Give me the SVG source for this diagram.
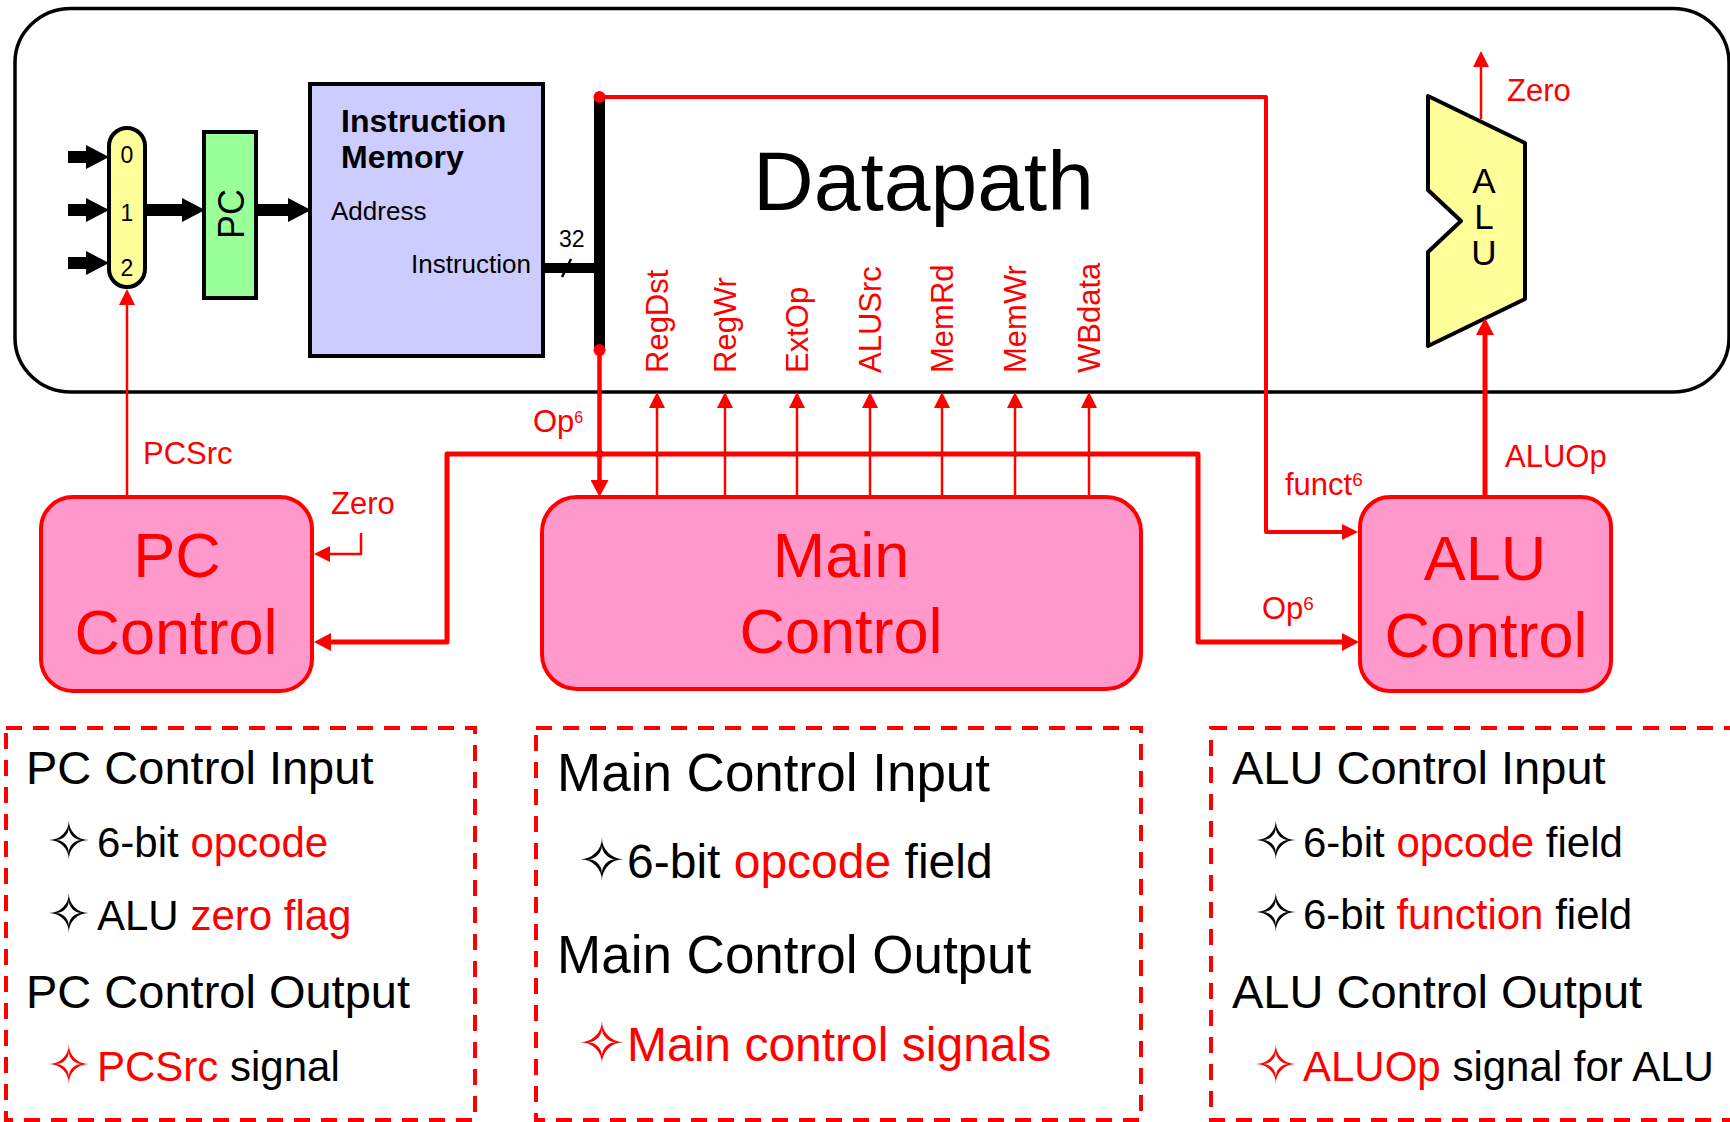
<svg xmlns="http://www.w3.org/2000/svg" width="1730" height="1122" viewBox="0 0 1730 1122">
  <style>
    text { font-family: "Liberation Sans", Arial, sans-serif; }
    .red { fill: #ff0000; }
    .blk { fill: #000000; }
    .star { font-family: "DejaVu Sans", sans-serif; }
    .ctl { fill: #ff99cc; stroke: #ff0000; stroke-width: 4; }
    .wire { fill: none; stroke: #ff0000; stroke-linejoin: round; }
    .thin { stroke-width: 2.5; }
    .thick { stroke-width: 4.5; }
    .note { fill: none; stroke: #ff0000; stroke-width: 4; stroke-dasharray: 16 11; }
    .sig { font-size: 31px; fill: #ff0000; }
    .lbl { font-size: 31px; fill: #ff0000; }
    .big { font-size: 63px; fill: #ff0000; text-anchor: middle; }
  </style>
  <defs>
    <marker id="hs" markerUnits="userSpaceOnUse" markerWidth="16" markerHeight="16" viewBox="0 0 16 16" refX="0" refY="8" orient="auto">
      <path d="M0,0 L16,8 L0,16 Z" fill="#ff0000"/>
    </marker>
    <marker id="hb" markerUnits="userSpaceOnUse" markerWidth="17" markerHeight="18" viewBox="0 0 17 18" refX="0" refY="9" orient="auto">
      <path d="M0,0 L17,9 L0,18 Z" fill="#ff0000"/>
    </marker>
    <marker id="hk" markerUnits="userSpaceOnUse" markerWidth="23" markerHeight="24" viewBox="0 0 23 24" refX="0" refY="12" orient="auto">
      <path d="M0,0 L23,12 L0,24 Z" fill="#000000"/>
    </marker>
  </defs>

  <!-- datapath outline -->
  <g id="datapath">
    <rect x="15" y="8.5" width="1714" height="383.5" rx="56" ry="54" fill="#ffffff" stroke="#000000" stroke-width="3.5"/>
    <text x="753" y="210" font-size="84" class="blk">Datapath</text>
  </g>

  <!-- PC source multiplexer -->
  <g id="mux">
    <rect x="109" y="128" width="36" height="159" rx="18" ry="18" fill="#ffff99" stroke="#000000" stroke-width="4"/>
    <text x="127" y="163" font-size="23" text-anchor="middle">0</text>
    <text x="127" y="221" font-size="23" text-anchor="middle">1</text>
    <text x="127" y="276" font-size="23" text-anchor="middle">2</text>
  </g>

  <!-- program counter -->
  <g id="pc">
    <rect x="204" y="132" width="52" height="166" fill="#99ff99" stroke="#000000" stroke-width="4"/>
    <text transform="translate(243.5,214) rotate(-90)" font-size="36" text-anchor="middle">PC</text>
  </g>

  <!-- instruction memory -->
  <g id="imem">
    <rect x="310" y="84" width="233" height="272" fill="#ccccff" stroke="#000000" stroke-width="4"/>
    <text x="341" y="132" font-size="32" font-weight="bold">Instruction</text>
    <text x="341" y="168" font-size="32" font-weight="bold">Memory</text>
    <text x="331" y="220" font-size="26">Address</text>
    <text x="531" y="273" font-size="26" text-anchor="end">Instruction</text>
  </g>

  <!-- ALU -->
  <g id="alu">
    <polygon points="1428,96 1525,143 1525,299 1428,346 1428,252 1461,221 1428,190" fill="#ffff99" stroke="#000000" stroke-width="4" stroke-linejoin="round"/>
    <text font-size="35" text-anchor="middle"><tspan x="1484" y="193">A</tspan><tspan x="1484" y="229">L</tspan><tspan x="1484" y="265">U</tspan></text>
  </g>

  <!-- control units -->
  <g id="pc-control">
    <rect class="ctl" x="41" y="497" width="271" height="194" rx="32" ry="32"/>
    <text class="big" x="177" y="577">PC</text>
    <text class="big" x="176" y="654">Control</text>
  </g>
  <g id="main-control">
    <rect class="ctl" x="542" y="497" width="599" height="192" rx="35" ry="35"/>
    <text class="big" x="841" y="577">Main</text>
    <text class="big" x="841" y="653">Control</text>
  </g>
  <g id="alu-control">
    <rect class="ctl" x="1360" y="497" width="251" height="194" rx="30" ry="30"/>
    <text class="big" x="1485" y="580" font-size="62">ALU</text>
    <text class="big" x="1486" y="657" font-size="62">Control</text>
  </g>

  <!-- connectors -->
  <g id="connectors">
    <!-- black datapath arrows -->
    <g stroke="#000000" stroke-width="12" fill="none">
      <line x1="68" y1="157" x2="86" y2="157" marker-end="url(#hk)"/>
      <line x1="68" y1="210" x2="86" y2="210" marker-end="url(#hk)"/>
      <line x1="68" y1="263" x2="86" y2="263" marker-end="url(#hk)"/>
      <line x1="145" y1="210" x2="182" y2="210" marker-end="url(#hk)"/>
      <line x1="256" y1="210" x2="288" y2="210" marker-end="url(#hk)"/>
    </g>
    <!-- 32-bit instruction bus -->
    <line x1="543" y1="268" x2="600" y2="268" stroke="#000000" stroke-width="10"/>
    <line x1="562" y1="277" x2="571" y2="259" stroke="#000000" stroke-width="2.5"/>
    <text x="559" y="247" font-size="23">32</text>
    <line x1="599.5" y1="97" x2="599.5" y2="350" stroke="#000000" stroke-width="11"/>

    <!-- funct field to ALU control -->
    <path class="wire" d="M599.5,97 H1266 V532 H1342" stroke-width="4" marker-end="url(#hs)"/>
    <!-- opcode field to main control -->
    <path class="wire thick" d="M599.5,350 V480" marker-end="url(#hb)"/>
    <!-- opcode to PC control and ALU control -->
    <path class="wire" d="M599.5,454 H447 V642 H331" stroke-width="5" marker-end="url(#hb)"/>
    <path class="wire" d="M599.5,454 H1198 V642 H1342" stroke-width="5" marker-end="url(#hb)"/>
    <circle cx="599.5" cy="97" r="6" fill="#ff0000"/>
    <circle cx="599.5" cy="350" r="6" fill="#ff0000"/>
    <circle cx="599.5" cy="454" r="4" fill="#ff0000"/>

    <!-- main control signals -->
    <g class="wire thin">
      <line x1="657" y1="497" x2="657" y2="408" marker-end="url(#hs)"/>
      <line x1="725" y1="497" x2="725" y2="408" marker-end="url(#hs)"/>
      <line x1="797" y1="497" x2="797" y2="408" marker-end="url(#hs)"/>
      <line x1="870" y1="497" x2="870" y2="408" marker-end="url(#hs)"/>
      <line x1="942" y1="497" x2="942" y2="408" marker-end="url(#hs)"/>
      <line x1="1015" y1="497" x2="1015" y2="408" marker-end="url(#hs)"/>
      <line x1="1089" y1="497" x2="1089" y2="408" marker-end="url(#hs)"/>
    </g>

    <!-- PCSrc to multiplexer -->
    <line class="wire thin" x1="127" y1="497" x2="127" y2="305" marker-end="url(#hs)"/>
    <!-- zero flag into PC control -->
    <path class="wire thin" d="M361,533 V554 H330" marker-end="url(#hs)"/>
    <!-- ALUOp to ALU -->
    <line class="wire" x1="1485" y1="497" x2="1485" y2="335" stroke-width="5" marker-end="url(#hb)"/>
    <!-- ALU zero output -->
    <line class="wire thin" x1="1481" y1="119" x2="1481" y2="67" marker-end="url(#hs)"/>

    <!-- signal labels -->
    <text class="sig" transform="translate(668,373) rotate(-90)">RegDst</text>
    <text class="sig" transform="translate(736,373) rotate(-90)">RegWr</text>
    <text class="sig" transform="translate(808,373) rotate(-90)">ExtOp</text>
    <text class="sig" transform="translate(881,373) rotate(-90)">ALUSrc</text>
    <text class="sig" transform="translate(953,373) rotate(-90)">MemRd</text>
    <text class="sig" transform="translate(1026,373) rotate(-90)">MemWr</text>
    <text class="sig" transform="translate(1100,373) rotate(-90)">WBdata</text>

    <text class="lbl" x="143" y="464">PCSrc</text>
    <text class="lbl" x="331" y="514">Zero</text>
    <text class="lbl" x="533" y="432" font-size="27">Op<tspan font-size="16" dy="-9">6</tspan></text>
    <text class="lbl" x="1285" y="495" font-size="30">funct<tspan font-size="19" dy="-9">6</tspan></text>
    <text class="lbl" x="1262" y="619" font-size="30">Op<tspan font-size="19" dy="-9">6</tspan></text>
    <text class="lbl" x="1505" y="467">ALUOp</text>
    <text class="lbl" x="1507" y="101">Zero</text>
  </g>

  <!-- PC control summary -->
  <g id="pc-control-notes">
    <rect class="note" x="6" y="728" width="469" height="392"/>
    <text x="26" y="784" font-size="47">PC Control Input</text>
    <text class="star" x="47" y="859" font-size="52">✧</text>
    <text x="97" y="857" font-size="42">6-bit <tspan class="red">opcode</tspan></text>
    <text class="star" x="47" y="932" font-size="52">✧</text>
    <text x="97" y="930" font-size="42">ALU <tspan class="red">zero flag</tspan></text>
    <text x="26" y="1008" font-size="47">PC Control Output</text>
    <text class="star red" x="47" y="1083" font-size="52">✧</text>
    <text x="97" y="1081" font-size="42"><tspan class="red">PCSrc</tspan> signal</text>
  </g>

  <!-- main control summary -->
  <g id="main-control-notes">
    <rect class="note" x="536" y="728" width="605" height="392"/>
    <text x="557" y="791" font-size="53">Main Control Input</text>
    <text class="star" x="578" y="880" font-size="57">✧</text>
    <text x="627" y="878" font-size="48">6-bit <tspan class="red">opcode</tspan> field</text>
    <text x="557" y="973" font-size="53">Main Control Output</text>
    <text class="star red" x="578" y="1063" font-size="57">✧</text>
    <text class="red" x="627" y="1061" font-size="48">Main control signals</text>
  </g>

  <!-- ALU control summary -->
  <g id="alu-control-notes">
    <rect class="note" x="1211" y="728" width="540" height="392"/>
    <text x="1232" y="784" font-size="47">ALU Control Input</text>
    <text class="star" x="1254" y="859" font-size="52">✧</text>
    <text x="1303" y="857" font-size="42">6-bit <tspan class="red">opcode</tspan> field</text>
    <text class="star" x="1254" y="931" font-size="52">✧</text>
    <text x="1303" y="929" font-size="42">6-bit <tspan class="red">function</tspan> field</text>
    <text x="1232" y="1008" font-size="47">ALU Control Output</text>
    <text class="star red" x="1254" y="1083" font-size="52">✧</text>
    <text x="1303" y="1081" font-size="42"><tspan class="red">ALUOp</tspan> signal for ALU</text>
  </g>
</svg>
